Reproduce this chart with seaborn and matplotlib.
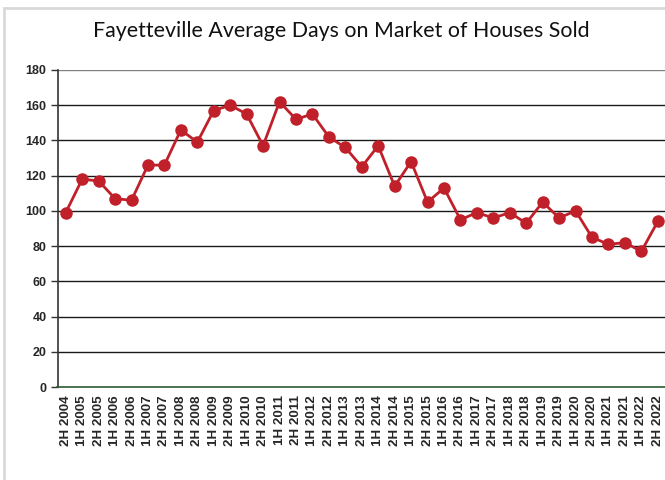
import matplotlib
matplotlib.use("Agg")
import matplotlib.pyplot as plt
from matplotlib.patches import Rectangle
import seaborn as sns
import pandas as pd

periods = [
    "2H 2004", "1H 2005", "2H 2005", "1H 2006", "2H 2006", "1H 2007", "2H 2007",
    "1H 2008", "2H 2008", "1H 2009", "2H 2009", "1H 2010", "2H 2010", "1H 2011",
    "2H 2011", "1H 2012", "2H 2012", "1H 2013", "2H 2013", "1H 2014", "2H 2014",
    "1H 2015", "2H 2015", "1H 2016", "2H 2016", "1H 2017", "2H 2017", "1H 2018",
    "2H 2018", "1H 2019", "2H 2019", "1H 2020", "2H 2020", "1H 2021", "2H 2021",
    "1H 2022", "2H 2022",
]
days_on_market = [
    99, 118, 117, 107, 106, 126, 126,
    146, 139, 157, 160, 155, 137, 162,
    152, 155, 142, 136, 125, 137, 114,
    128, 105, 113, 95, 99, 96, 99,
    93, 105, 96, 100, 85, 81, 82,
    77, 94,
]
y_ticks = [0, 20, 40, 60, 80, 100, 120, 140, 160, 180]

df = pd.DataFrame({"idx": range(len(periods)), "days": days_on_market})

sns.set_style("white")
plt.rcParams["font.family"] = ["Lato", "DejaVu Sans"]

fig = plt.figure(figsize=(6.65, 4.80), dpi=100)
fig.patches.append(Rectangle((4 / 665, -0.1), 1.0, 1.1 - 8 / 480,
                             transform=fig.transFigure, fill=False,
                             edgecolor="#d9d9d9", linewidth=2.0))

ax = fig.add_axes([57.5 / 665, 1 - 387 / 480, (666 - 57.5) / 665, 317 / 480])

sns.lineplot(data=df, x="idx", y="days", ax=ax, color="#c0202a",
             linewidth=2.0, marker="o", markersize=9, markeredgewidth=0,
             zorder=3)

tick_font = ["Liberation Sans", "DejaVu Sans"]
ax.set_xlim(-0.5, len(periods) - 0.5)
ax.set_ylim(0, 180)
ax.set_yticks(y_ticks)
ax.set_yticklabels([str(v) for v in y_ticks], fontweight="bold", fontsize=9,
                   family=tick_font)
ax.set_xticks(range(len(periods)))
ax.set_xticklabels(periods, rotation=90, fontweight="bold", fontsize=9.6,
                   family=tick_font)
ax.set_xlabel("")
ax.set_ylabel("")

for v in y_ticks[1:]:
    ax.axhline(v, color="#1a1a1a" if v != 180 else "#808080",
               linewidth=1.0, zorder=1)

for side in ["top", "right"]:
    ax.spines[side].set_visible(False)
ax.spines["left"].set_color("#333333")
ax.spines["left"].set_linewidth(1.2)
ax.spines["bottom"].set_color("#2e5a34")
ax.spines["bottom"].set_linewidth(1.2)

ax.tick_params(axis="y", which="major", direction="out", length=5, width=1,
               color="#333333", pad=3, left=True)
ax.tick_params(axis="x", which="major", length=0, pad=6)

fig.text(341 / 665, 1 - 31 / 480,
         "Fayetteville Average Days on Market of Houses Sold",
         ha="center", va="center", fontsize=15.4, color="#111111")

fig.savefig("out.png", dpi=100, facecolor="white")
